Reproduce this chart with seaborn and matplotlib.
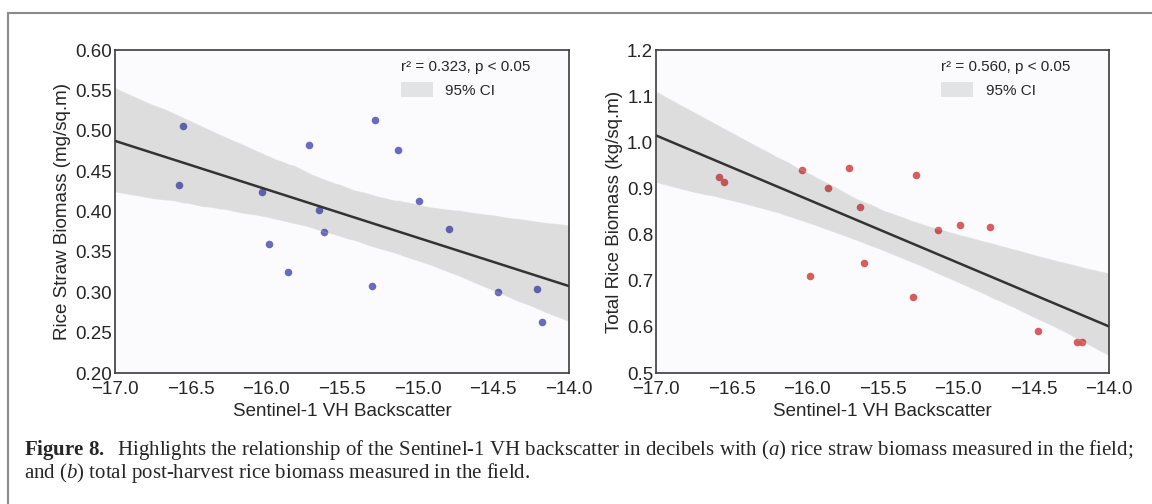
import numpy as np
import pandas as pd
import seaborn as sns
import matplotlib.pyplot as plt
from matplotlib.patches import Patch, Rectangle

# Sentinel-1 VH backscatter (dB), same plots for both panels
vh_backscatter = [-16.55, -16.58, -16.03, -15.98, -15.86, -15.72, -15.65, -15.62,
                  -15.30, -15.28, -15.13, -14.99, -14.79, -14.47, -14.21, -14.18]
# (a) rice straw biomass (mg/sq.m)
straw_biomass = [0.506, 0.433, 0.424, 0.360, 0.325, 0.482, 0.402, 0.374,
                 0.308, 0.513, 0.476, 0.413, 0.378, 0.300, 0.304, 0.263]
# (b) total rice biomass (kg/sq.m)
total_biomass = [0.914, 0.924, 0.941, 0.710, 0.902, 0.945, 0.860, 0.738,
                 0.664, 0.929, 0.809, 0.821, 0.816, 0.590, 0.567, 0.567]

stats_a = 'r\u00b2 = 0.323, p < 0.05'
stats_b = 'r\u00b2 = 0.560, p < 0.05'

df = pd.DataFrame({'VH': vh_backscatter, 'straw': straw_biomass, 'total': total_biomass})

sns.set_style('white')
plt.rcParams['font.family'] = ['Liberation Sans', 'DejaVu Sans']
plt.rcParams['mathtext.fontset'] = 'custom'
plt.rcParams['mathtext.rm'] = 'Liberation Serif'
plt.rcParams['mathtext.it'] = 'Liberation Serif:italic'
plt.rcParams['mathtext.bf'] = 'Liberation Serif:bold'

fig = plt.figure(figsize=(11.52, 5.04), dpi=100)
ax1 = fig.add_axes([115 / 1152, 1 - 373 / 504, 454 / 1152, 323 / 504])
ax2 = fig.add_axes([656 / 1152, 1 - 373 / 504, 453 / 1152, 323 / 504])

panels = [
    (ax1, 'straw', '#6262bd', 'Rice Straw Biomass (mg/sq.m)', (0.2, 0.6), np.arange(0.2, 0.61, 0.05), '{:.2f}', stats_a),
    (ax2, 'total', '#d45656', 'Total Rice Biomass (kg/sq.m)', (0.5, 1.2), np.arange(0.5, 1.21, 0.1), '{:.1f}', stats_b),
]

xt = np.arange(-17, -13.9, 0.5)

for ax, col, pcolor, ylabel, ylim, yticks, fmt, stats in panels:
    ax.set_facecolor('#fbfbfd')
    ax.set_xlim(-17, -14)
    ax.set_ylim(*ylim)
    # band colour comes from `color` (alpha .15), line colour from line_kws
    sns.regplot(data=df, x='VH', y=col, ax=ax, truncate=False, ci=95, seed=3,
                color='#555555',
                scatter_kws={'color': pcolor, 's': 30, 'alpha': 0.95, 'linewidths': 0},
                line_kws={'color': '#333333', 'lw': 1.8})
    ax.set_xlim(-17, -14)
    ax.set_ylim(*ylim)
    ax.set_xticks(xt)
    ax.set_xticklabels(['\u2212{:.1f}'.format(abs(v)) for v in xt])
    ax.set_yticks(yticks)
    ax.set_yticklabels([fmt.format(v) for v in yticks])
    ax.tick_params(axis='both', labelsize=13.5, length=0)
    ax.tick_params(axis='x', pad=6)
    ax.tick_params(axis='y', pad=2)
    ax.set_xlabel('Sentinel-1 VH Backscatter', fontsize=13.5, labelpad=3)
    ax.set_ylabel(ylabel, fontsize=13.5, labelpad=3)
    for s in ax.spines.values():
        s.set_color('#3c3c3c')
        s.set_linewidth(1.2)
    ax.text(0.63, 0.947, stats, transform=ax.transAxes, ha='left', va='center', fontsize=11)
    ax.legend(handles=[Patch(facecolor='#e2e3e4', edgecolor='none', label='95% CI')],
              loc='center left', bbox_to_anchor=(0.63, 0.876), frameon=False, fontsize=11,
              handlelength=2.1, handleheight=1.1, handletextpad=0.8,
              borderpad=0, borderaxespad=0)

# figure frame
fig.add_artist(Rectangle((8 / 1152, -0.1), 1.1, 1.1 - 13 / 504, transform=fig.transFigure,
                         fill=False, edgecolor='#8a8a8a', linewidth=1.5, clip_on=False))

caption1 = (r'$\mathbf{Figure\ 8.}$  Highlights the relationship of the Sentinel-1 VH backscatter '
            r'in decibels with ($\mathit{a}$) rice straw biomass measured in the field;')
caption2 = r'and ($\mathit{b}$) total post-harvest rice biomass measured in the field.'
fig.text(24 / 1152, 1 - 450 / 504, caption1, fontsize=15, family='Liberation Serif', va='center')
fig.text(24 / 1152, 1 - 473 / 504, caption2, fontsize=15, family='Liberation Serif', va='center')

fig.savefig('out.png', dpi=100)
